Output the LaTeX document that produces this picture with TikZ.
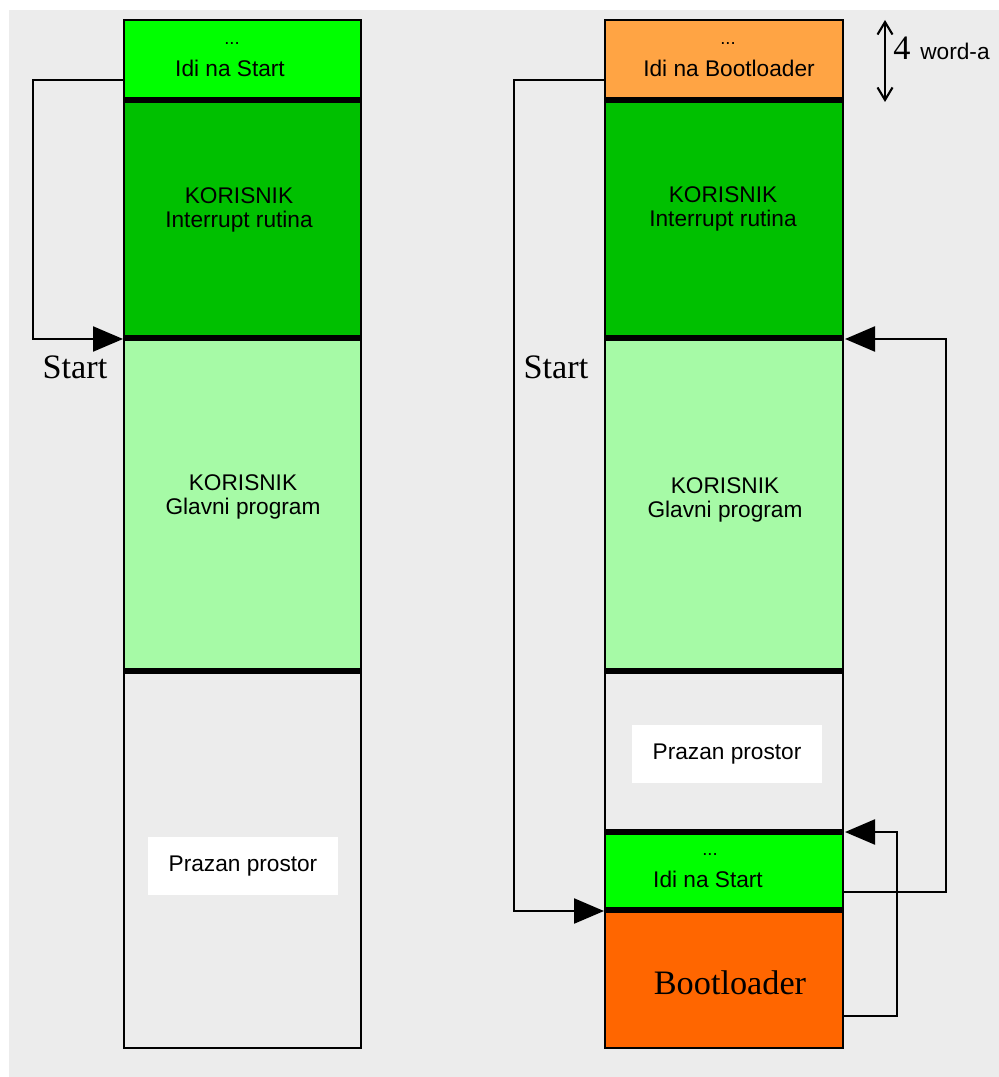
\documentclass[tikz,border=0pt]{standalone}
\usepackage{fontspec}
\setmainfont{Liberation Sans}
\newfontfamily\serifa{Liberation Serif}
\usetikzlibrary{arrows.meta}
\definecolor{brgreen}{HTML}{00FF00}
\definecolor{dkgreen}{HTML}{00C000}
\definecolor{ltgreen}{HTML}{A6FAA6}
\definecolor{ltorange}{HTML}{FFA444}
\definecolor{dkorange}{HTML}{FF6600}
\definecolor{bggrey}{HTML}{ECECEC}
\tikzset{
  blk/.style={draw=black, line width=1.4pt},
  sep/.style={black, line width=2.9pt},
  jump/.style={black, line width=1.3pt, -{Triangle[length=0.6cm,width=0.5cm]}},
  dim/.style={black, line width=1.2pt, {Straight Barb[length=0.25cm,width=0.3cm]}-{Straight Barb[length=0.25cm,width=0.3cm]}},
  txt/.style={font=\fontsize{12.9}{15}\selectfont, inner sep=0pt},
  dots/.style={font=\fontsize{10.5}{12}\selectfont, inner sep=0pt},
  big/.style={font=\serifa\fontsize{19.5}{22}\selectfont, inner sep=0pt},
  empty/.style={fill=white, inner sep=0pt, minimum width=3.8cm, minimum height=1.15cm, font=\fontsize{12.9}{15}\selectfont}
}
\begin{document}
\begin{tikzpicture}[x=0.02cm,y=-0.02cm]

\useasboundingbox (0,0) rectangle (999,1077);
\fill[white] (0,0) rectangle (999,1077);
\fill[bggrey] (9,10) rectangle (999,1077);

% left memory map
\filldraw[blk,fill=brgreen] (124,20) rectangle (361,100);
\filldraw[blk,fill=dkgreen] (124,100) rectangle (361,338);
\filldraw[blk,fill=ltgreen] (124,338) rectangle (361,671);
\draw[blk] (124,671) rectangle (361,1048);
\foreach \y in {100,338,671}
	\draw[sep] (124,\y) -- (361,\y);

% right memory map
\filldraw[blk,fill=ltorange] (605,20) rectangle (843,100);
\filldraw[blk,fill=dkgreen] (605,100) rectangle (843,338);
\filldraw[blk,fill=ltgreen] (605,338) rectangle (843,671);
\draw[blk] (605,671) rectangle (843,832);
\filldraw[blk,fill=brgreen] (605,832) rectangle (843,910);
\filldraw[blk,fill=dkorange] (605,910) rectangle (843,1048);
\foreach \y in {100,338,671,832,910}
	\draw[sep] (605,\y) -- (843,\y);

      \node[dots] (ldots) at (232,44) {...};
      \node[txt] (lidi) at (230,68) {Idi na Start};
      \node[txt] (lkor) at (239,196) {KORISNIK};
      \node[txt] (lint) at (239,222) {Interrupt rutina};
      \node[txt] (lkor2) at (243,483) {KORISNIK};
      \node[txt] (lglav) at (243,509) {Glavni program};
      \node[empty] (lpraz) at (243,866) {Prazan prostor};
      \node[big] (lstart) at (75,367) {Start};

      \node[dots] (rdots) at (728,44) {...};
      \node[txt] (ridi) at (729,68) {Idi na Bootloader};
      \node[txt] (rkor) at (723,195) {KORISNIK};
      \node[txt] (rint) at (723,221) {Interrupt rutina};
      \node[txt] (rkor2) at (725,486) {KORISNIK};
      \node[txt] (rglav) at (725,512) {Glavni program};
      \node[empty] (rpraz) at (727,754) {Prazan prostor};
      \node[dots] (rdots2) at (710,855) {...};
      \node[txt] (ridi2) at (708,879) {Idi na Start};
      \node[big] (rboot) at (730,983) {Bootloader};
      \node[big] (rstart) at (556,367) {Start};

      \node[big] (four) at (902,48) {4};
      \node[txt] (word) at (955,51) {word-a};

% jumps
      \coordinate (ljmp) at (124,80);
      \coordinate (lst) at (123,339);
      \coordinate (rjmp) at (605,80);
      \coordinate (rst) at (604,911);
      \coordinate (bjmp) at (843,892);
      \coordinate (bst) at (845,339);
      \coordinate (ljmp2) at (843,1016);
      \coordinate (lst2) at (845,832);
 \draw[jump] (ljmp) -- ++(-91,0) |- (lst);
 \draw[jump] (rjmp) -- ++(-91,0) |- (rst);
 \draw[jump] (bjmp) -- ++(103,0) |- (bst);
 \draw[jump] (ljmp2) -- ++(54,0) |- (lst2);

      \coordinate (dtop) at (885,20);
      \coordinate (dbot) at (885,102);
 \draw[dim] (dtop) -- (dbot);

\end{tikzpicture}
\end{document}
